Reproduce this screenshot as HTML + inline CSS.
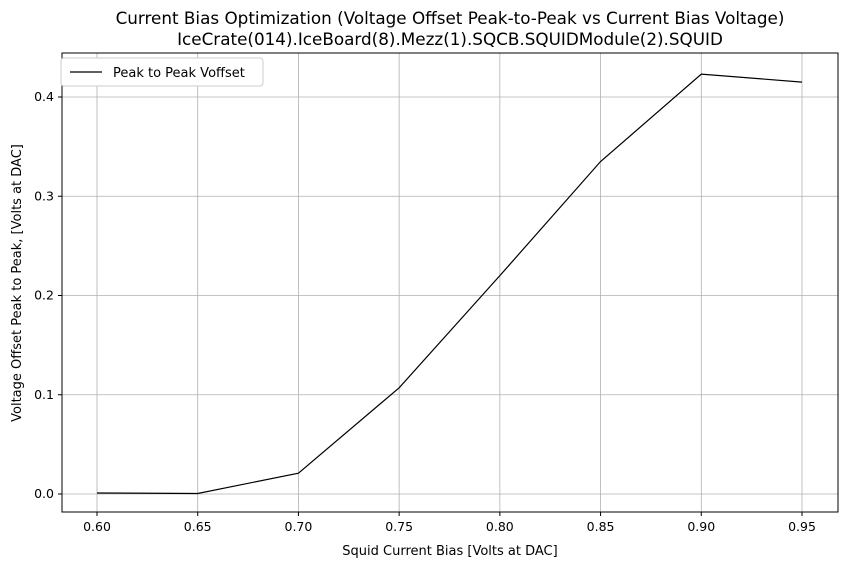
<!DOCTYPE html>
<html><head><meta charset="utf-8"><style>
body{margin:0;background:#fff;}
svg text{font-family:"DejaVu Sans","Liberation Sans",sans-serif;fill:#000;}
</style></head><body>
<svg id="chart" width="849" height="568" xmlns="http://www.w3.org/2000/svg">
<rect width="849" height="568" fill="#fff"/>
<text x="450" y="24" font-size="16.8" text-anchor="middle">Current Bias Optimization (Voltage Offset Peak-to-Peak vs Current Bias Voltage)</text>
<text x="450" y="45" font-size="16.8" text-anchor="middle">IceCrate(014).IceBoard(8).Mezz(1).SQCB.SQUIDModule(2).SQUID</text>
<g id="grid"></g>
<g id="ticks"></g>
<path id="line" fill="none" stroke="#000" stroke-width="1.2"/>
<rect x="62" y="53" width="776" height="459" fill="none" stroke="#000" stroke-width="1"/>
<g>
<rect x="61" y="58" width="202" height="28" rx="3" fill="#fff" stroke="#ccc"/>
<line x1="70" y1="72" x2="102" y2="72" stroke="#000" stroke-width="1.2"/>
<text x="113" y="77" font-size="13">Peak to Peak Voffset</text>
</g>
<text x="450" y="555" font-size="13" text-anchor="middle">Squid Current Bias [Volts at DAC]</text>
<text transform="translate(21,283) rotate(-90)" font-size="13" text-anchor="middle">Voltage Offset Peak to Peak, [Volts at DAC]</text>
</svg>
<script>
const xValues=[0.60,0.65,0.70,0.75,0.80,0.85,0.90,0.95];
const yValues=[0.001,0.0005,0.021,0.107,0.220,0.335,0.423,0.415];
const xTicks=[0.60,0.65,0.70,0.75,0.80,0.85,0.90,0.95];
const yTicks=[0.0,0.1,0.2,0.3,0.4];
function xs(v){return 97+(v-0.60)/0.35*705;}
function ys(v){return 494-v/0.4*397;}
const NS="http://www.w3.org/2000/svg";
const grid=document.getElementById('grid'),ticks=document.getElementById('ticks');
function mk(p,tag,attrs){const e=document.createElementNS(NS,tag);for(const k in attrs)e.setAttribute(k,attrs[k]);p.appendChild(e);return e;}
xTicks.forEach(t=>{const x=xs(t);
const g=mk(grid,'line',{x1:x,x2:x,y1:53,y2:512,stroke:'#b0b0b0','stroke-width':0.8});


mk(ticks,'line',{x1:x,x2:x,y1:512,y2:516,stroke:'#000'});
const tx=mk(ticks,'text',{x:x,y:531,'font-size':12.5,'text-anchor':'middle'});tx.textContent=t.toFixed(2);

});
yTicks.forEach(t=>{const y=ys(t);
const g=mk(grid,'line',{x1:62,x2:838,y1:y,y2:y,stroke:'#b0b0b0','stroke-width':0.8});


mk(ticks,'line',{x1:58,x2:62,y1:y,y2:y,stroke:'#000'});
const tx=mk(ticks,'text',{x:54,y:y+4,'font-size':12.5,'text-anchor':'end'});tx.textContent=t.toFixed(1);

});
document.getElementById('line').setAttribute('d',xValues.map((v,i)=>(i?'L':'M')+xs(v)+','+ys(yValues[i])).join(' '));
</script>
</body></html>
